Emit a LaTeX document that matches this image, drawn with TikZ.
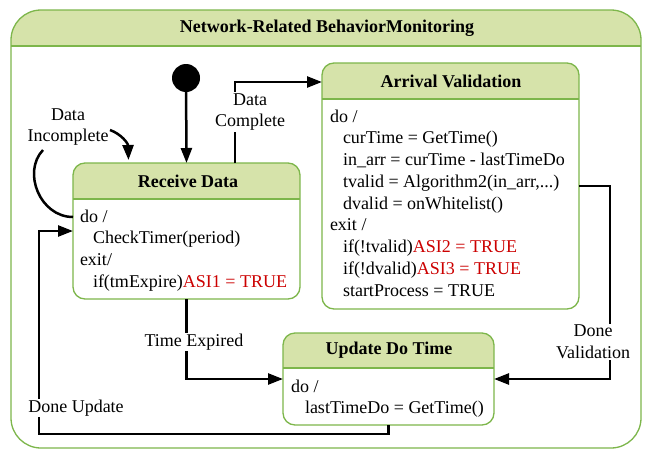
\documentclass[tikz,border=0pt]{standalone}
\usepackage{fontspec}
\setmainfont{Liberation Serif}
\usetikzlibrary{arrows.meta,calc}

\definecolor{hdrgreen}{RGB}{214,227,170}
\definecolor{bordergreen}{RGB}{125,182,75}
\definecolor{asired}{RGB}{204,0,0}

\tikzset{
  txt/.style={inner sep=0pt, outer sep=0pt, font=\fontsize{18}{21.75}\selectfont},
  ln/.style={txt, anchor=base west},
  ttl/.style={txt, font=\fontsize{18}{21.75}\selectfont\bfseries},
  lbl/.style={txt, align=center, fill=white, inner sep=1pt},
  slot/.style={inner sep=0pt, outer sep=0pt, anchor=north west},
  rim/.style={draw=bordergreen, line width=1.3pt},
  flow/.style={draw=black, line width=2.5pt, -{Triangle[length=15pt,width=11pt]}},
  flowplain/.style={draw=black, line width=2.5pt},
}

% state with a green header band of height #2 and corner radius #3
\newcommand\umlstatebox[3]{%
  \begin{scope}
    \clip[rounded corners=#3] (#1.north west) rectangle (#1.south east);
    \fill[white] (#1.north west) rectangle (#1.south east);
    \fill[hdrgreen] (#1.north west) rectangle ([yshift=-#2]#1.north east);
  \end{scope}
  \draw[rim] ([yshift=-#2]#1.north west) -- ([yshift=-#2]#1.north east);
  \draw[rim, rounded corners=#3] (#1.north west) rectangle (#1.south east);
}

\begin{document}
\begin{tikzpicture}[x=1pt, y=-1pt]
\useasboundingbox (0,0) rectangle (648,450);

% outer composite state
\node[slot, minimum width=630, minimum height=438] (net) at (11,10) {};
\umlstatebox{net}{36pt}{30pt}
\node[ttl] (nettitle) at (327,28) {Network-Related BehaviorMonitoring};

% inner states
\node[slot, minimum width=227, minimum height=136] (rd) at (73,163) {};
\umlstatebox{rd}{36pt}{12pt}
\node[ttl] (rdtitle) at (188,181) {Receive Data};

\node[slot, minimum width=257, minimum height=246] (av) at (322,63) {};
\umlstatebox{av}{36pt}{12pt}
\node[ttl] (avtitle) at (451,81) {Arrival Validation};

\node[slot, minimum width=211, minimum height=92] (ud) at (283,333) {};
\umlstatebox{ud}{35pt}{12pt}
\node[ttl] (udtitle) at (389,350) {Update Do Time};

% initial pseudostate
\node[circle, fill=black, minimum size=28pt, inner sep=0pt] (init) at (186,78) {};

% body of Receive Data
\node[ln] (rd1) at (80,222) {do /};
\node[ln] (rd2) at (93,243.75) {CheckTimer(period)};
\node[ln] (rd3) at (80,265.5) {exit/};
\node[ln] (rd4) at (93,287.25) {if(tmExpire)\textcolor{asired}{ASI1 = TRUE}};

% body of Arrival Validation
\node[ln] (av1) at (330,122) {do /};
\node[ln] (av2) at (343,143.75) {curTime = GetTime()};
\node[ln] (av3) at (343,165.5) {in\_arr = curTime - lastTimeDo};
\node[ln] (av4) at (343,187.25) {tvalid = Algorithm2(in\_arr,...)};
\node[ln] (av5) at (343,209) {dvalid = onWhitelist()};
\node[ln] (av6) at (330,230.75) {exit /};
\node[ln] (av7) at (343,252.5) {if(!tvalid)\textcolor{asired}{ASI2 = TRUE}};
\node[ln] (av8) at (343,274.25) {if(!dvalid)\textcolor{asired}{ASI3 = TRUE}};
\node[ln] (av9) at (343,296) {startProcess = TRUE};

% body of Update Do Time
\node[ln] (ud1) at (291,392) {do /};
\node[ln] (ud2) at (305,413) {lastTimeDo = GetTime()};

% transitions
\coordinate (selftop) at (43,150);
\coordinate (selfin) at (110,130);
\draw[flow] (init) -- (rd.north);
\draw[flowplain] ([yshift=14pt]rd.west) .. controls (40,217) and (22,172) .. (selftop);
\draw[flow] (selfin) .. controls (121,134) and (128,143) .. ([xshift=-58pt,yshift=3pt]rd.north);
\draw[flow] ([xshift=-65pt]rd.north east) |- ([yshift=-19pt]av.north west);
\draw[flow] (rd.south) |- (ud.west);
\draw[flow] (av.east) -- ++(31,0) |- (ud.east);
\draw[flow] (ud.south) -- ++(0,9) -| ([xshift=-34pt]rd.west) -- (rd.west);

% transition labels
\node[txt, align=center] (lincomplete) at (68,127) {Data\\Incomplete};
\node[lbl] (lcomplete) at (250,112) {Data\\Complete};
\node[lbl] (lexpired) at (194,342) {Time Expired};
\node[lbl] (lvalidation) at (593,342) {Done\\Validation};
\node[lbl] (lupdate) at (76,408) {Done Update};
\end{tikzpicture}
\end{document}
